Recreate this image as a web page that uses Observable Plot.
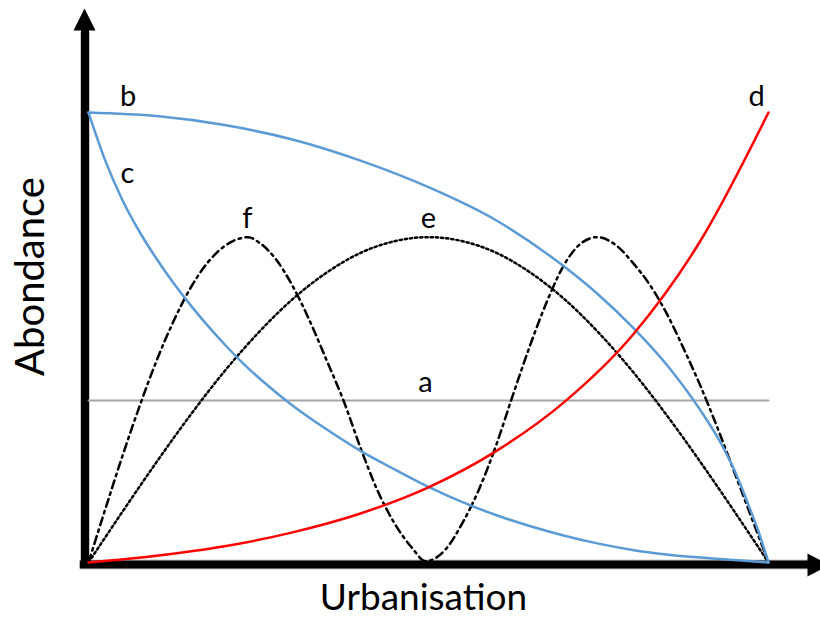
<!DOCTYPE html>
<html>
<head>
<meta charset="utf-8">
<script src="https://cdn.jsdelivr.net/npm/d3@7"></script>
<script src="https://cdn.jsdelivr.net/npm/@observablehq/plot@0.6"></script>
<style>
  html, body { margin: 0; padding: 0; background: #ffffff; }
  #chart { width: 820px; height: 622px; overflow: hidden; }
</style>
</head>
<body>
<div id="chart"></div>
<script>
// ---- data (Urbanisation 0–100, Abondance 0–100) ----
const uA = [0, 100];
const vA = [36, 36];

const uB = [0, 10, 20, 30, 40, 50, 60, 70, 75, 80, 85, 90, 93, 95, 97, 98.5, 100];
const vB = [100, 99.2, 97.2, 94, 89.3, 83.4, 76, 65.7, 59.5, 52.3, 44, 33.8, 26.5, 20.5, 13, 7, 0];

const uC = [0, 2.5, 5, 7.5, 10, 12.5, 15, 17.5, 20, 22.5, 25, 27.5, 30, 35, 40, 45, 50, 55, 60, 65, 70, 75, 80, 85, 90, 95, 100];
const vC = [100, 89.2, 80.5, 73.5, 67.5, 62.1, 57.2, 52.7, 48.5, 44.6, 41.1, 37.9, 34.9, 29.6, 24.8, 20.7, 16.8, 13.4, 10.5, 8.05, 5.95, 4.2, 2.8, 1.8, 1.1, 0.55, 0];

const uD = [0, 10, 20, 30, 40, 50, 60, 70, 80, 90, 100];
const vD = [0, 1.5, 3.6, 6.7, 10.9, 16.7, 24.8, 35.7, 50.5, 71.5, 100];

const uE = [0, 5, 10, 15, 20, 25, 30, 35, 40, 45, 50, 55, 60, 65, 70, 75, 80, 85, 90, 95, 100];
const vE = [0, 11.3, 22.3, 32.8, 42.5, 51.1, 58.5, 64.4, 68.8, 71.4, 72.3, 71.4, 68.8, 64.4, 58.5, 51.1, 42.5, 32.8, 22.3, 11.3, 0];

const uF = [0, 2.5, 5, 7.5, 10, 12.5, 15, 17.5, 20, 22.5, 23.5, 25, 27.5, 30, 32.5, 35, 37.5, 40, 42.5, 45, 47.5, 49.6,
            52.5, 55, 57.5, 60, 62.5, 65, 67.5, 70, 72.5, 74.8, 77.5, 80, 82.5, 85, 87.5, 90, 92.5, 95, 97.5, 100];
const vF = [0, 12, 23.7, 34.7, 44.8, 53.6, 61, 66.6, 70.3, 72.1, 72.3, 71.2, 67.5, 61.5, 53.8, 45, 36, 25.5, 16, 8.7, 3.4, 0.3,
            2.9, 8.8, 16.5, 26.3, 37.6, 48.5, 58.3, 66.3, 71, 72.3, 70.6, 66.7, 61.8, 55.4, 47.6, 39.2, 29.9, 20, 10, 0];

const seriesNames = ["a", "b", "c", "d", "e", "f"];
const xTitle = "Urbanisation";
const yTitle = "Abondance";

// ---- build tables ----
const rows = (us, vs) => us.map((u, i) => ({u, v: vs[i]}));
const A = rows(uA, vA), B = rows(uB, vB), C = rows(uC, vC),
      D = rows(uD, vD), E = rows(uE, vE), F = rows(uF, vF);

const FONT = "Lato, 'Open Sans', sans-serif";
const blue = "#5B9BD5";

// filled arrowhead symbols
const triUp = {draw(ctx) { ctx.moveTo(0, -11); ctx.lineTo(11, 11); ctx.lineTo(-11, 11); ctx.closePath(); }};
const triRight = {draw(ctx) { ctx.moveTo(11, 0); ctx.lineTo(-11, 11.5); ctx.lineTo(-11, -11.5); ctx.closePath(); }};

const eMax = E.reduce((m, d) => d.v > m.v ? d : m, E[0]);
const fPeak = F.filter(d => d.u < 50).reduce((m, d) => d.v > m.v ? d : m, F[0]);
const aMid = {u: (A[0].u + A[A.length - 1].u) / 2, v: A[0].v};

const label = (datum, txt, dx, dy) =>
  Plot.text([datum], {x: "u", y: "v", text: () => txt, dx, dy, lineAnchor: "bottom",
    textAnchor: "middle", fontSize: 29, fontFamily: FONT, fill: "#000"});

const chart = Plot.plot({
  width: 820,
  height: 622,
  marginLeft: 88,
  marginRight: 52,
  marginTop: 112,
  marginBottom: 60,
  x: {domain: [0, 100], axis: null},
  y: {domain: [0, 100], axis: null},
  style: {background: "#ffffff", overflow: "visible", fontFamily: FONT},
  marks: [
    // axes (thick black with light outline)
    Plot.ruleX([0], {dx: -3.5, insetTop: -80, insetBottom: -6, stroke: "#c8c8c8", strokeWidth: 10}),
    Plot.ruleY([0], {dy: 2, insetLeft: -8, insetRight: -40, stroke: "#c8c8c8", strokeWidth: 10}),
    Plot.ruleX([0], {dx: -3.5, insetTop: -82, insetBottom: -6, stroke: "#000", strokeWidth: 8}),
    Plot.ruleY([0], {dy: 2, insetLeft: -8.3, insetRight: -40, stroke: "#000", strokeWidth: 8}),
    Plot.dot([0], {frameAnchor: "top-left", dx: -4, dy: -93, symbol: triUp, r: 10, fill: "#000", stroke: "none"}),
    Plot.dot([0], {frameAnchor: "bottom-right", dx: 50, dy: 2.5, symbol: triRight, r: 10, fill: "#000", stroke: "none"}),

    // curves
    Plot.line(A, {x: "u", y: "v", stroke: "#a5a5a5", strokeWidth: 2}),
    Plot.line(E, {x: "u", y: "v", stroke: "#000", strokeWidth: 2.5, strokeDasharray: "2.3,2.9", curve: "monotone-x"}),
    Plot.line(F, {x: "u", y: "v", stroke: "#000", strokeWidth: 2.5, strokeDasharray: "8,4.5,2.5,4.5", curve: "monotone-x"}),
    Plot.line(C, {x: "u", y: "v", stroke: blue, strokeWidth: 2.5, curve: "monotone-x"}),
    Plot.line(B, {x: "u", y: "v", stroke: blue, strokeWidth: 2.5, curve: "monotone-x"}),
    Plot.line(D, {x: "u", y: "v", stroke: "#ff0000", strokeWidth: 2.5, curve: "monotone-x"}),

    // curve labels
    label(aMid, seriesNames[0], -3, -9),
    label(B[0], seriesNames[1], 39.5, -7),
    label(C[0], seriesNames[2], 39, 70),
    label(D[D.length - 1], seriesNames[3], -12, -7),
    label(eMax, seriesNames[4], 0, -9),
    label(fPeak, seriesNames[5], -1, -9),

    // axis titles
    Plot.text([xTitle], {frameAnchor: "bottom", dx: -5, dy: 47, lineAnchor: "bottom", textAnchor: "middle",
      fontSize: 37, fontFamily: FONT, fill: "#000"}),
    Plot.text([yTitle], {frameAnchor: "left", rotate: -90, dx: -45, dy: -61, lineAnchor: "bottom", textAnchor: "middle",
      fontSize: 40, fontFamily: FONT, fill: "#000"})
  ]
});
document.getElementById("chart").appendChild(chart);
</script>
</body>
</html>
